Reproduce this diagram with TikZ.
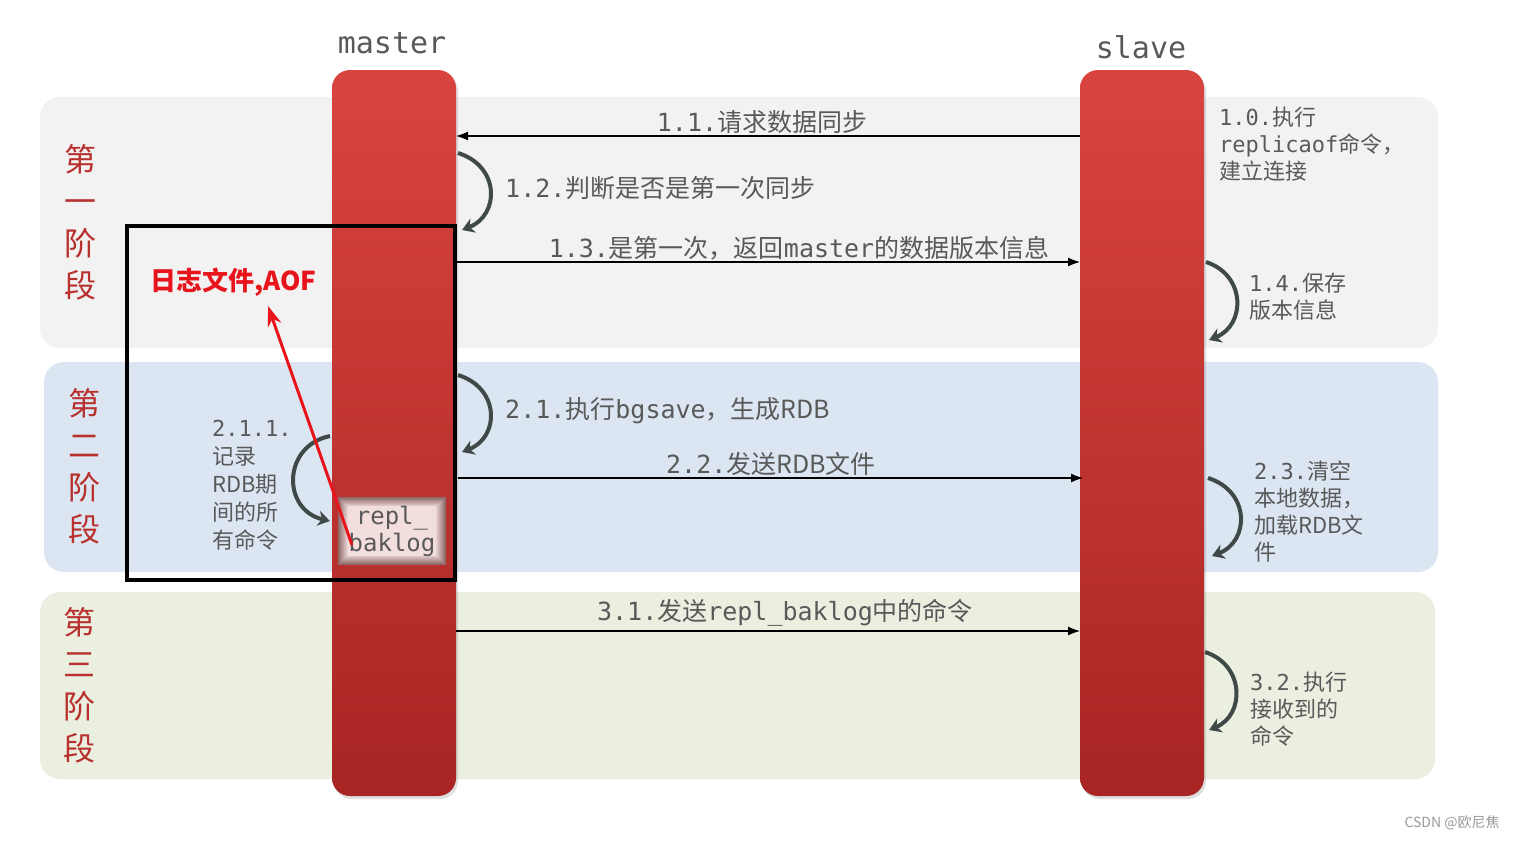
\documentclass[tikz,border=0pt]{standalone}
\usepackage{fontspec}
\setmainfont{Noto Sans CJK SC}
\setmonofont{DejaVu Sans Mono}
\usetikzlibrary{arrows.meta,shadows}
\definecolor{bandgray}{HTML}{F2F2F2}
\definecolor{bandblue}{HTML}{DCE6F2}
\definecolor{bandgreen}{HTML}{EBEFE0}
\definecolor{bartop}{HTML}{D9443F}
\definecolor{barbottom}{HTML}{A82523}
\definecolor{stagered}{HTML}{B8312F}
\definecolor{textgray}{HTML}{595959}
\definecolor{loopgray}{HTML}{3F4A48}
\definecolor{replpink}{HTML}{F3DEDE}
\definecolor{replshade}{HTML}{6A4040}
\definecolor{aofred}{HTML}{E8141C}
\begin{document}
\begin{tikzpicture}
[x=1pt,y=-1pt,
  bardecorate/.style={rectangle,rounded corners=18pt,minimum width=124pt,minimum height=726pt,
    top color=bartop,bottom color=barbottom,draw=none,
    drop shadow={shadow xshift=2pt,shadow yshift=-3pt,opacity=0.25}},
  namedecorate/.style={font=\ttfamily\fontsize{30}{30}\selectfont,text=textgray,anchor=base,inner sep=0pt},
  stagedecorate/.style={font=\fontsize{32}{42}\selectfont,text=stagered,align=center,anchor=north,inner sep=0pt},
  msgdecorate/.style={font=\fontsize{25}{30}\selectfont,text=textgray,anchor=base,inner sep=0pt},
  notedecorate/.style={font=\fontsize{22}{27}\selectfont,text=textgray,align=left,anchor=north west,inner sep=0pt},
  linedecorate/.style={-{Latex[length=12pt,width=9pt]},line width=1.2pt,black},
  loopdecorate/.style={-{Stealth[length=12pt,width=15pt]},line width=4pt,loopgray}]
\useasboundingbox[fill=white] (0,0) rectangle (1517,841);
% stage bands
\fill[bandgray,rounded corners=20pt] (40,97) rectangle (1438,348);
\fill[bandblue,rounded corners=20pt] (44,362) rectangle (1438,572);
\fill[bandgreen,rounded corners=20pt] (40,592) rectangle (1435,779);
\node (st1) at (80,144) [stagedecorate] {第\\一\\阶\\段};
\node (st2) at (84,388) [stagedecorate] {第\\二\\阶\\段};
\node (st3) at (79,607) [stagedecorate] {第\\三\\阶\\段};
% master and slave
\node (mbar) at (394,433) [bardecorate] {};
\node (sbar) at (1142,433) [bardecorate] {};
\node (mname) at (392,53) [namedecorate] {master};
\node (sname) at (1141,58) [namedecorate] {slave};
% end points of the messages
\coordinate (s11) at (1080,136);
\coordinate (m11) at (456,136);
\coordinate (m13) at (456,262);
\coordinate (s13) at (1080,262);
\coordinate (m22) at (458,478);
\coordinate (s22) at (1083,478);
\coordinate (m31) at (456,631);
\coordinate (s31) at (1080,631);
% end points of the loops
\coordinate (l12a) at (458,153);
\coordinate (l12b) at (462,230);
\coordinate (l14a) at (1206,262);
\coordinate (l14b) at (1209,340);
\coordinate (l21a) at (458,375);
\coordinate (l21b) at (462,452);
\coordinate (l23a) at (1208,478);
\coordinate (l23b) at (1212,556);
\coordinate (l32a) at (1205,652);
\coordinate (l32b) at (1209,730);
\coordinate (l211a) at (330,436);
\coordinate (l211b) at (330,521);
% messages
\path
(s11) edge[linedecorate] (m11)
(m13) edge[linedecorate] (s13)
(m22) edge[linedecorate] (s22)
(m31) edge[linedecorate] (s31);
\node (t11) at (762,131) [msgdecorate] {\texttt{1.1.}请求数据同步};
\node (t12) at (505,197) [msgdecorate,anchor=base west] {\texttt{1.2.}判断是否是第一次同步};
\node (t13) at (799,257) [msgdecorate] {\texttt{1.3.}是第一次，返回\texttt{master}的数据版本信息};
\node (t21) at (505,418) [msgdecorate,anchor=base west] {\texttt{2.1.}执行\texttt{bgsave}，生成RDB};
\node (t22) at (771,473) [msgdecorate] {\texttt{2.2.}发送RDB文件};
\node (t31) at (785,620) [msgdecorate] {\texttt{3.1.}发送\texttt{repl\_baklog}中的命令};
% loops
\draw[loopdecorate] (l12a) .. controls (500,166) and (500,215) .. (l12b);
\draw[loopdecorate] (l14a) .. controls (1246,275) and (1246,325) .. (l14b);
\draw[loopdecorate] (l21a) .. controls (500,388) and (500,437) .. (l21b);
\draw[loopdecorate] (l23a) .. controls (1250,491) and (1250,541) .. (l23b);
\draw[loopdecorate] (l32a) .. controls (1245,665) and (1245,715) .. (l32b);
\draw[loopdecorate] (l211a) .. controls (282,446) and (282,510) .. (l211b);
% notes
\node (n10) at (1219,107) [notedecorate] {\texttt{1.0.}执行\\\texttt{replicaof}命令，\\建立连接};
\node (n14) at (1249,273) [notedecorate] {\texttt{1.4.}保存\\版本信息};
\node (n23) at (1254,461) [notedecorate] {\texttt{2.3.}清空\\本地数据，\\加载RDB文\\件};
\node (n32) at (1250,672) [notedecorate] {\texttt{3.2.}执行\\接收到的\\命令};
\node (n211) at (212,420) [notedecorate,font=\fontsize{22}{28}\selectfont] {\texttt{2.1.1.}\\记录\\RDB期\\间的所\\有命令};
% repl_baklog buffer, soft dark rim
\foreach \k in {0,...,9}
  \pgfmathsetmacro{\mix}{75-7.5*\k}
  \fill[replshade!\mix!replpink] (338+\k,497+\k) rectangle (446-\k,565-\k);
\node (repl) at (392,531) [rectangle,minimum width=88pt,minimum height=48pt,fill=replpink,
  inner sep=0pt,font=\ttfamily\fontsize{24}{27}\selectfont,text=textgray,align=center] {repl\_\\baklog};
% AOF frame and remark
\draw[line width=4pt,black] (127,226) rectangle (455,580);
\node (aof) at (150,290) [anchor=base west,inner sep=0pt,text=aofred,
  font=\bfseries\fontsize{26}{26}\selectfont] {日志文件,AOF};
\coordinate (baklogpt) at (352,545);
\coordinate (aoftip) at (268,306);
\draw[-{Stealth[length=20pt,width=14pt]},line width=3pt,aofred] (baklogpt) -- (aoftip);
% watermark
\node (mark) at (1452,823) [font=\fontsize{14}{14}\selectfont,text=black!40] {CSDN @欧尼焦};
\end{tikzpicture}
\end{document}
